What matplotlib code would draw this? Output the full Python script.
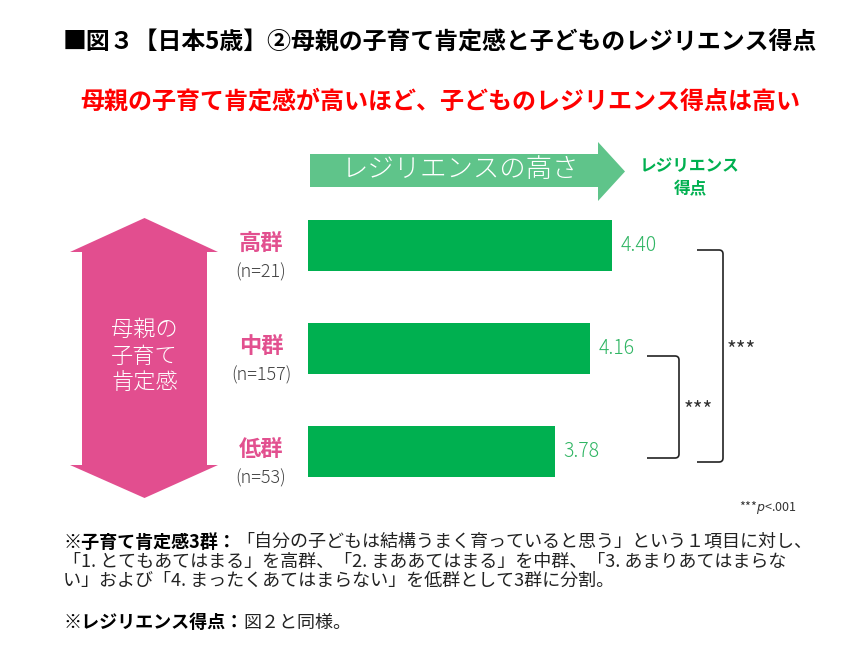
import matplotlib
matplotlib.use("Agg")
import matplotlib.pyplot as plt
from matplotlib.patches import Polygon, PathPatch
from matplotlib.path import Path

plt.rcParams['font.family'] = ['Noto Sans CJK JP', 'DejaVu Sans']

# ---- data ----
groups = ["低群", "中群", "高群"]
group_n = ["(n=53)", "(n=157)", "(n=21)"]
scores = [3.78, 4.16, 4.40]
title = "■図３【日本5歳】②母親の子育て肯定感と子どものレジリエンス得点"
subtitle = "母親の子育て肯定感が高いほど、子どものレジリエンス得点は高い"
sig_label = "***"

W, H = 854, 663
fig = plt.figure(figsize=(W / 100, H / 100), dpi=100)

# overlay axes in pixel coordinates
ov = fig.add_axes([0, 0, 1, 1])
ov.set_xlim(0, W)
ov.set_ylim(H, 0)
ov.axis("off")

# bar axes
x0, x1 = 1.1, 5.0
left_px, right_px = 308, 308 + (x1 - x0) * 92
top_px, bot_px = 194, 503
ax = fig.add_axes([left_px / W, 1 - bot_px / H, (right_px - left_px) / W, (bot_px - top_px) / H])
ax.set_xlim(x0, x1)
ax.set_ylim(-0.5, 2.5)
ax.axis("off")
ax.patch.set_alpha(0)

ypos = list(range(len(groups)))
ax.barh(ypos, [s - x0 for s in scores], left=x0, height=0.495, color="#00B050")
for y, s in zip(ypos, scores):
    ax.annotate(f"{s:.2f}", xy=(s, y), xytext=(6.5, 0), textcoords="offset points",
                ha="left", va="center", fontsize=14, color="#2FB563", fontweight="light")

# titles
ov.text(440, 43, title, ha="center", va="center", fontsize=17.2, fontweight="bold", color="black")
ov.text(440, 102, subtitle, ha="center", va="center", fontsize=17.3, fontweight="bold", color="#FF0000")

# green arrow (top)
garrow = Polygon([(310, 154), (598, 154), (598, 142), (625, 171.5), (598, 201), (598, 187), (310, 187)],
                 closed=True, facecolor="#5FC48A", edgecolor="none")
ov.add_patch(garrow)
ov.text(460, 169, "レジリエンスの高さ", ha="center", va="center", fontsize=19, color="white",
        fontweight="light")
ov.text(690, 178, "レジリエンス\n得点", ha="center", va="center", fontsize=12, fontweight="bold",
        color="#00B050", linespacing=1.35)

# pink double arrow
parrow = Polygon([(144.5, 218), (218, 252), (207, 252), (207, 465), (218, 465), (144.5, 498),
                  (70, 465), (82, 465), (82, 252), (70, 252)],
                 closed=True, facecolor="#E24E8F", edgecolor="none")
ov.add_patch(parrow)
ov.text(144.5, 357, "母親の\n子育て\n肯定感", ha="center", va="center", fontsize=16, color="white",
        linespacing=1.3, fontweight="light")

# group labels
for y, g, n in zip(ypos, groups, group_n):
    yc = ax.transData.transform((x0, y))[1]
    ypix = H - yc
    ov.text(261, ypix - 2, g, ha="center", va="center", fontsize=16, fontweight="bold", color="#E2508F")
    ov.text(261, ypix + 27, n, ha="center", va="center", fontsize=13, color="#404040", fontweight="light")


def bracket(xl, xr, yt, yb, r=4):
    verts = [(xl, yt), (xr - r, yt), (xr, yt), (xr, yt + r), (xr, yb - r), (xr, yb), (xr - r, yb), (xl, yb)]
    codes = [Path.MOVETO, Path.LINETO, Path.CURVE3, Path.CURVE3, Path.LINETO, Path.CURVE3, Path.CURVE3, Path.LINETO]
    ov.add_patch(PathPatch(Path(verts, codes), facecolor="none", edgecolor="#222222", lw=1.2))


bracket(697, 723, 250, 462)
bracket(647, 679, 356, 458)
ov.text(727, 351, sig_label, ha="left", va="center", fontsize=15, color="#333333")
ov.text(684, 411, sig_label, ha="left", va="center", fontsize=15, color="#333333")

# p-value note
ov.text(797, 507, "***$p$<.001", ha="right", va="center", fontsize=9, color="#333333")

# notes
fs = 13
t1 = ov.text(63, 542, "※子育て肯定感3群：", ha="left", va="center", fontsize=fs, fontweight="bold", color="black")
ov.annotate("「自分の子どもは結構うまく育っていると思う」という１項目に対し、", xy=(1, 0.5), xycoords=t1,
            ha="left", va="center", fontsize=fs, color="#222222")
ov.text(63, 562, "「1. とてもあてはまる」を高群、「2. まああてはまる」を中群、「3. あまりあてはまらな",
        ha="left", va="center", fontsize=fs, color="#222222")
ov.text(63, 581, "い」および「4. まったくあてはまらない」を低群として3群に分割。",
        ha="left", va="center", fontsize=fs, color="#222222")
t5 = ov.text(63, 623, "※レジリエンス得点：", ha="left", va="center", fontsize=fs, fontweight="bold", color="black")
ov.annotate("図２と同様。", xy=(1, 0.5), xycoords=t5, ha="left", va="center", fontsize=fs, color="#222222")

fig.savefig("out.png", dpi=100)
